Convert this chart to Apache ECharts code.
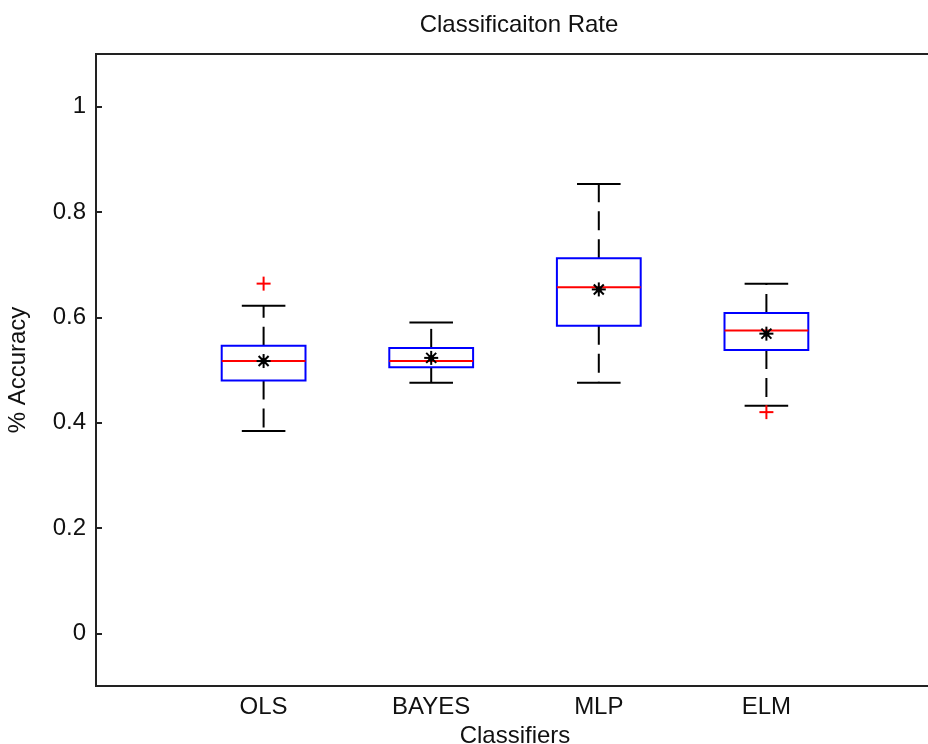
<!DOCTYPE html>
<html>
<head>
<meta charset="utf-8">
<script src="https://cdn.jsdelivr.net/npm/echarts@6/dist/echarts.min.js"></script>
<style>
  html, body { margin: 0; padding: 0; background: #fff; }
  #main { width: 928px; height: 744px; }
</style>
</head>
<body>
<div id="main"></div>
<script>
// box statistics
const classifiers = ['OLS', 'BAYES', 'MLP', 'ELM'];
const whiskerLow = [0.384, 0.476, 0.476, 0.432];
const q1 = [0.480, 0.505, 0.584, 0.538];
const medians = [0.517, 0.517, 0.657, 0.575];
const q3 = [0.546, 0.542, 0.712, 0.608];
const whiskerHigh = [0.622, 0.590, 0.853, 0.664];
const means = [0.517, 0.523, 0.653, 0.569];
// [classifier index, value]
const outliers = [[0, 0.664], [3, 0.420]];

const yTicks = [0, 0.2, 0.4, 0.6, 0.8, 1];
const font = 'Liberation Sans';

const chart = echarts.init(document.getElementById('main'));

function renderBox(params, api) {
    const x = api.value(0);
    const lo = api.value(1), b1 = api.value(2), med = api.value(3),
          b3 = api.value(4), hi = api.value(5), mean = api.value(6);
    const hb = api.size([0.25, 0])[0];
    const hc = api.size([0.13, 0])[0];
    const p = v => api.coord([x, v]);
    const cx = p(med)[0];
    const black = { stroke: '#000', lineWidth: 2 };
    const dashed = { stroke: '#000', lineWidth: 2, lineDash: [19, 9] };
    const kids = [];
    // whiskers
    kids.push({ type: 'line', shape: { x1: cx, y1: p(b3)[1], x2: cx, y2: p(hi)[1] }, style: dashed });
    kids.push({ type: 'line', shape: { x1: cx, y1: p(b1)[1], x2: cx, y2: p(lo)[1] }, style: dashed });
    kids.push({ type: 'line', shape: { x1: cx - hc, y1: p(hi)[1], x2: cx + hc, y2: p(hi)[1] }, style: black });
    kids.push({ type: 'line', shape: { x1: cx - hc, y1: p(lo)[1], x2: cx + hc, y2: p(lo)[1] }, style: black });
    // box
    const top = p(b3)[1], bot = p(b1)[1];
    kids.push({ type: 'rect', shape: { x: cx - hb, y: top, width: hb * 2, height: bot - top },
        style: { fill: 'none', stroke: '#0000ff', lineWidth: 2 } });
    kids.push({ type: 'line', shape: { x1: cx - hb, y1: p(med)[1], x2: cx + hb, y2: p(med)[1] },
        style: { stroke: '#ff0000', lineWidth: 2 } });
    // mean marker '*'
    const my = p(mean)[1], s = 7, d = 5;
    [[-s, 0, s, 0], [0, -s, 0, s], [-d, -d, d, d], [-d, d, d, -d]].forEach(a => {
        kids.push({ type: 'line', shape: { x1: cx + a[0], y1: my + a[1], x2: cx + a[2], y2: my + a[3] }, style: black });
    });
    kids.push({ type: 'circle', shape: { cx: cx, cy: my, r: 3 }, style: { fill: '#000' } });
    return { type: 'group', children: kids };
}

function renderPlus(params, api) {
    const pt = api.coord([api.value(0), api.value(1)]);
    const s = 7;
    const st = { stroke: '#ff0000', lineWidth: 2 };
    return {
        type: 'group',
        children: [
            { type: 'line', shape: { x1: pt[0] - s, y1: pt[1], x2: pt[0] + s, y2: pt[1] }, style: st },
            { type: 'line', shape: { x1: pt[0], y1: pt[1] - s, x2: pt[0], y2: pt[1] + s }, style: st }
        ]
    };
}

const option = {
    animation: false,
    backgroundColor: '#fff',
    textStyle: { fontFamily: font },
    title: {
        text: 'Classificaiton Rate',
        left: 514,
        top: 8,
        textAlign: 'center',
        textStyle: { fontFamily: font, fontSize: 24, fontWeight: 'normal', color: '#111' }
    },
    grid: {
        left: 96, top: 54, width: 838, height: 632,
        outerBoundsMode: 'none',
        containLabel: false,
        show: true, borderColor: '#222', borderWidth: 2, backgroundColor: '#fff'
    },
    xAxis: {
        type: 'value',
        min: 0, max: 5, interval: 1,
        name: 'Classifiers',
        nameLocation: 'middle',
        nameGap: 36,
        nameTextStyle: { fontFamily: font, fontSize: 24, color: '#111' },
        axisLine: { onZero: false, lineStyle: { color: '#222', width: 2 } },
        axisTick: { show: false },
        splitLine: { show: false },
        axisLabel: {
            margin: 9, fontSize: 24, color: '#111', fontFamily: font,
            formatter: v => classifiers[v - 1] || ''
        }
    },
    yAxis: {
        type: 'value',
        min: -0.1, max: 1.1,
        name: '% Accuracy',
        nameLocation: 'middle',
        nameGap: 66,
        nameTextStyle: { fontFamily: font, fontSize: 24, color: '#111' },
        axisLine: { show: true, onZero: false, lineStyle: { color: '#222', width: 2 } },
        axisTick: { show: true, inside: true, length: 6, customValues: yTicks, lineStyle: { color: '#222', width: 2 } },
        splitLine: { show: false },
        axisLabel: {
            margin: 10, fontSize: 24, color: '#111', fontFamily: font,
            customValues: yTicks,
            formatter: v => (v === 0 || v === 1) ? String(v) : v.toFixed(1)
        }
    },
    series: [
        {
            type: 'custom',
            renderItem: renderBox,
            data: classifiers.map((c, i) => [i + 1, whiskerLow[i], q1[i], medians[i], q3[i], whiskerHigh[i], means[i]]),
            encode: { x: 0, y: [1, 2, 3, 4, 5] },
            z: 3
        },
        {
            type: 'custom',
            renderItem: renderPlus,
            data: outliers.map(o => [o[0] + 1, o[1]]),
            encode: { x: 0, y: 1 },
            z: 4
        }
    ]
};

chart.setOption(option);
</script>
</body>
</html>
